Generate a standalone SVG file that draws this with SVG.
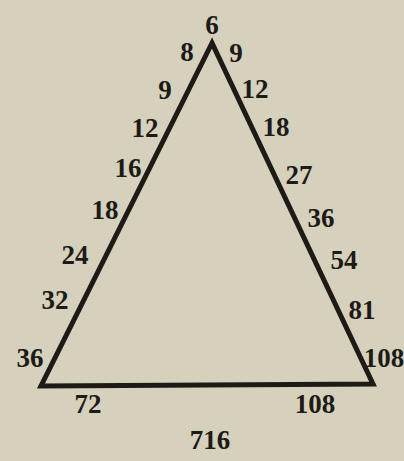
<svg xmlns="http://www.w3.org/2000/svg" width="404" height="461" viewBox="0 0 404 461">
<style>
.n{font-family:"Liberation Serif","Times New Roman",serif;font-size:27px;font-weight:bold;fill:#1e1b16;text-anchor:middle;dominant-baseline:central}
.e{stroke:#1e1b16;stroke-width:5;fill:none;stroke-linecap:round;stroke-linejoin:miter}
</style>
<rect width="404" height="461" fill="#d6d1bd"/>
<g id="connectors">
<path class="e" d="M212,43 L41,386 L373,384 Z"/>
</g>
<g id="apex"><text class="n" x="212" y="25" font-size="32">6</text></g>
<g id="l1"><text class="n" x="187" y="52">8</text></g>
<g id="r1"><text class="n" x="236" y="53">9</text></g>
<g id="l2"><text class="n" x="165" y="90">9</text></g>
<g id="r2"><text class="n" x="255" y="89">12</text></g>
<g id="l3"><text class="n" x="145" y="128">12</text></g>
<g id="r3"><text class="n" x="276" y="127">18</text></g>
<g id="l4"><text class="n" x="128" y="168">16</text></g>
<g id="r4"><text class="n" x="299" y="175">27</text></g>
<g id="l5"><text class="n" x="105" y="210">18</text></g>
<g id="r5"><text class="n" x="321" y="218">36</text></g>
<g id="l6"><text class="n" x="75" y="255">24</text></g>
<g id="r6"><text class="n" x="344" y="260">54</text></g>
<g id="l7"><text class="n" x="55" y="300">32</text></g>
<g id="r7"><text class="n" x="362" y="310">81</text></g>
<g id="l8"><text class="n" x="30" y="358">36</text></g>
<g id="r8"><text class="n" x="384" y="358" font-size="24">108</text></g>
<g id="b1"><text class="n" x="88" y="404">72</text></g>
<g id="b2"><text class="n" x="315" y="404">108</text></g>
<g id="total"><text class="n" x="210" y="440">716</text></g>
</svg>
